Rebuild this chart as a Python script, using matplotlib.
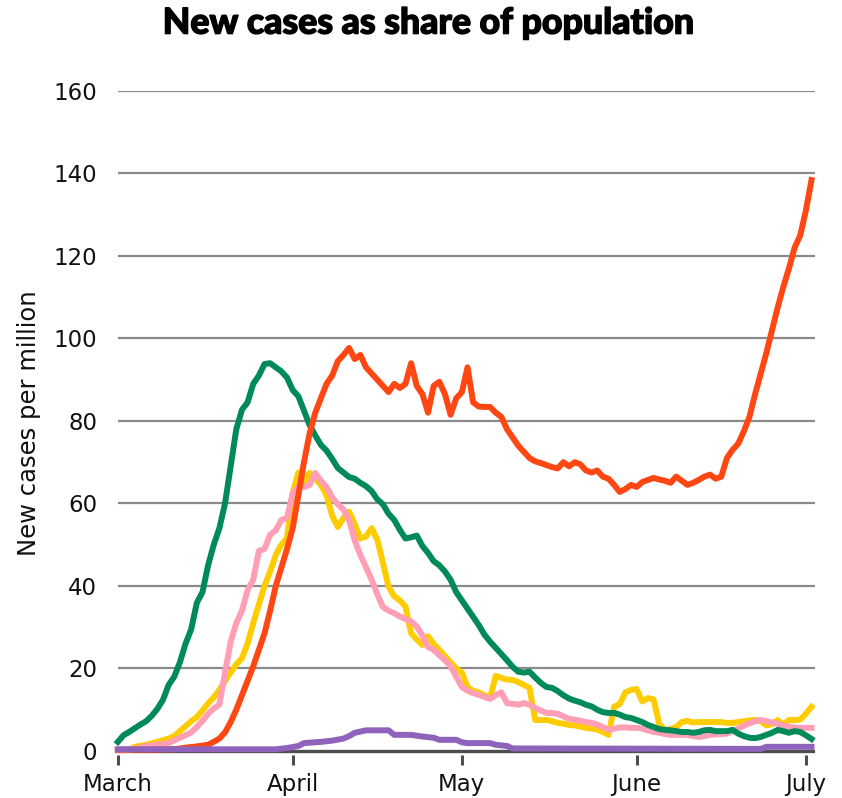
import matplotlib
matplotlib.use("Agg")
import matplotlib.pyplot as plt
import matplotlib.patheffects as pe

# day 0 = 1 March
us_days = [0, 5, 10, 12, 14, 16, 17, 18, 19, 20, 21, 22, 23, 24, 25, 26, 27, 28, 29, 30,
           31, 32, 33, 34, 35, 36, 37, 38, 39, 40, 41, 42, 43, 44, 45, 46, 47, 48, 49, 50,
           51, 52, 53, 54, 55, 56, 57, 58, 59, 60, 61, 62, 63, 64, 65, 66, 67, 68, 69, 70,
           71, 72, 73, 74, 75, 76, 77, 78, 79, 80, 81, 82, 83, 84, 85, 86, 87, 88, 89, 90,
           91, 92, 93, 94, 95, 96, 97, 98, 99, 100, 101, 102, 103, 104, 105, 106, 107, 108,
           109, 110, 111, 112, 113, 114, 115, 116, 117, 118, 119, 120, 121, 122, 123]
us_vals = [0.3, 0.3, 0.4, 0.8, 1.1, 1.5, 2.2, 3, 4.5, 7, 10, 13.5, 17, 20.5, 24.5, 28.5, 34, 40, 44.5, 49,
           54, 62, 70, 77, 82, 85.5, 89, 91, 94.5, 96, 97.7, 95, 96, 93, 91.5, 90, 88.5, 87, 89, 88,
           89, 94, 88.5, 86.5, 82, 88.5, 89.5, 86.5, 81.5, 85.5, 87, 93, 84.5, 83.5, 83.4, 83.4, 82, 81, 78, 76,
           74, 72.5, 71, 70.2, 69.8, 69.3, 68.8, 68.5, 70, 69, 70, 69.5, 68, 67.5, 68, 66.5, 66, 64.5, 62.8, 63.5,
           64.5, 64, 65.2, 65.7, 66.2, 65.8, 65.5, 65, 66.5, 65.5, 64.5, 65, 65.7, 66.5, 67, 66, 66.5,
           71, 73, 74.5, 77.5, 81, 86.5, 91.5, 96.5, 102, 107.5, 112.5, 117, 122, 125, 131, 138.4]

eu_days = list(range(0, 124))
eu_vals = [2.2, 3.8, 4.6, 5.5, 6.4, 7.2, 8.5, 10.2, 12.4, 16, 18, 21.5, 26, 29.5, 35.9, 38.5, 45, 50, 54, 60,
           69, 78, 82.7, 84.5, 89, 91, 93.8, 94, 93, 92, 90.5, 87.5, 86, 82.5, 79, 76.5, 74.2, 72.8, 70.8, 68.6,
           67.5, 66.4, 66, 65, 64.2, 63, 61, 59.8, 57.5, 56, 53.6, 51.5, 51.8, 52.2, 49.7, 48, 46, 45, 43.5, 41.5,
           38.5, 36.5, 34.5, 32.5, 30.5, 28.2, 26.5, 25, 23.5, 22, 20.4, 19.2, 19, 19.2, 17.8, 16.5, 15.5, 15.3, 14.5, 13.5,
           12.7, 12.2, 11.8, 11.2, 10.8, 10, 9.4, 9.2, 9.2, 8.8, 8.2, 8, 7.5, 7, 6.3, 5.8, 5.3, 5.1, 5, 4.8,
           4.6, 4.6, 4.4, 4.6, 5, 5.1, 4.8, 4.8, 4.8, 5.1, 4.2, 3.6, 3.2, 3.1, 3.4, 3.9, 4.4, 5.1, 4.8, 4.4,
           4.8, 4.6, 3.8, 2.9]

yellow_days = [0, 2, 3, 5, 7, 8, 9, 10, 11, 12, 13, 14, 15, 16, 17, 18, 19, 20, 21, 22,
               23, 24, 25, 26, 27, 28, 29, 30, 31, 32, 33, 34, 35, 36, 37, 38, 39, 40, 41, 42,
               43, 44, 45, 46, 47, 48, 49, 50, 51, 52, 53, 54, 55, 56, 57, 58, 59, 60, 61, 62,
               63, 64, 65, 66, 67, 68, 69, 70, 71, 72, 73, 74, 75, 76, 77, 78, 79, 80, 81, 82,
               83, 84, 85, 86, 87, 88, 89, 90, 91, 92, 93, 94, 95, 96, 97, 98, 99, 100, 101, 102,
               103, 104, 105, 106, 107, 108, 109, 110, 111, 112, 113, 114, 115, 116, 117, 118, 119, 120, 121, 122, 123]
yellow_vals = [0.2, 0.3, 1, 1.5, 2.2, 2.6, 3, 3.6, 4.8, 6, 7.2, 8.2, 9.8, 11.5, 13, 14.8, 17, 19, 21, 22.5,
               26, 31, 35.5, 40, 43.5, 47.5, 50, 51.6, 62.5, 67.5, 65, 67.4, 66, 64.5, 62, 57, 54.3, 56.5, 58, 55,
               51.5, 52, 54, 51.2, 45.6, 39.8, 37.5, 36.5, 35, 28.5, 27, 25.7, 27.8, 26, 24.5, 23, 21.5, 20, 19, 15.5,
               14.6, 14.2, 13.5, 12.8, 18.2, 17.7, 17.3, 17.2, 16.7, 16, 15.3, 7.5, 7.5, 7.5, 7.2, 6.8, 6.6, 6.3, 6.2, 5.9,
               5.6, 5.4, 5.2, 4.6, 3.9, 10.7, 11.4, 14.2, 14.8, 15, 12, 12.8, 12.5, 6.5, 5.1, 5.3, 5.8, 7, 7.3, 6.9,
               7, 7, 7, 7, 7, 6.8, 6.8, 7, 7.2, 7.4, 7.5, 7.2, 6.2, 6.5, 7.5, 6.3, 7.5, 7.5, 7.6, 9, 10.7]

pink_days = [0, 3, 5, 7, 9, 11, 12, 13, 14, 15, 16, 17, 18, 19, 20, 21, 22, 23, 24, 25,
             26, 27, 28, 29, 30, 31, 32, 33, 34, 35, 36, 37, 38, 39, 40, 41, 42, 43, 44, 45,
             46, 47, 48, 49, 50, 51, 52, 53, 54, 55, 56, 57, 58, 59, 60, 61, 62, 63, 64, 65,
             66, 67, 68, 69, 70, 71, 72, 73, 74, 75, 76, 77, 78, 79, 80, 81, 82, 83, 84, 85,
             86, 87, 88, 89, 90, 91, 92, 93, 94, 95, 96, 97, 98, 99, 100, 101, 102, 103, 104, 105,
             106, 107, 108, 109, 110, 111, 112, 113, 114, 115, 116, 117, 118, 119, 120, 121, 122, 123]
pink_vals = [0.2, 0.4, 1.2, 1.5, 1.9, 3.2, 3.8, 4.5, 5.8, 7.3, 9, 10.3, 11.2, 19, 26.5, 31, 34, 39, 41.5, 48.5,
             49, 52.4, 53.5, 56, 56.5, 62.5, 64, 64, 64.5, 67.4, 65.5, 64, 61.5, 59.8, 58.5, 56, 51, 47.5, 44.5, 41.5,
             38, 34.9, 34, 33.4, 32.6, 32, 31.4, 30.2, 28, 25.2, 24.5, 23.2, 22, 20.5, 18, 15.5, 14.6, 14, 13.6, 13.1,
             12.6, 13.5, 14.2, 11.6, 11.4, 11.2, 11.6, 11.2, 10.4, 9.8, 9.2, 9.2, 9, 8.4, 7.8, 7.6, 7.3, 7, 6.8, 6.4,
             5.8, 5.1, 5.4, 5.7, 5.7, 5.6, 5.6, 5.4, 5, 4.6, 4.4, 4.1, 3.9, 3.9, 3.9, 3.9, 3.6, 3.4, 3.6, 3.9,
             4, 4.1, 4.2, 4.8, 5.5, 6.1, 6.7, 7.2, 7.5, 7.2, 6.9, 6.6, 6.2, 5.8, 5.7, 5.6, 5.6, 5.6]

purple_days = [0, 28, 30, 32, 33, 35, 36, 38, 40, 41, 42, 44, 48, 49, 52, 54, 56, 57, 60, 61,
               62, 66, 67, 69, 70, 114, 115, 123]
purple_vals = [0.4, 0.4, 0.7, 1.2, 1.9, 2.1, 2.2, 2.5, 3, 3.6, 4.4, 5, 5, 3.9, 3.9, 3.5, 3.2, 2.7, 2.7, 2.1,
               1.9, 1.9, 1.5, 1.2, 0.6, 0.5, 1.0, 1.0]

month_days = [0, 31, 61, 92, 122]
month_labels = ["March", "April", "May", "June", "July"]
y_ticks = [0, 20, 40, 60, 80, 100, 120, 140, 160]

fig = plt.figure(figsize=(8.42, 7.98), dpi=100)
ax = fig.add_axes([0.140, 0.0538, 0.8278, 0.8322])

for t in y_ticks[1:]:
    ax.axhline(t, color="#8a8a8a", lw=1.6, zorder=1)
ax.axhline(0, color="#4d4d4d", lw=2.4, zorder=2)

lw = 4.3
ax.plot(yellow_days, yellow_vals, color="#ffcc00", lw=lw, zorder=3, clip_on=False, solid_joinstyle="round")
ax.plot(pink_days, pink_vals, color="#ff9eb5", lw=lw, zorder=4, clip_on=False, solid_joinstyle="round")
ax.plot(eu_days, eu_vals, color="#008a5a", lw=lw, zorder=5, clip_on=False, solid_joinstyle="round")
ax.plot(us_days, us_vals, color="#ff4713", lw=lw, zorder=6, clip_on=False, solid_joinstyle="round")
ax.plot(purple_days, purple_vals, color="#8f63bb", lw=lw, zorder=7, clip_on=False, solid_joinstyle="round")

ax.set_xlim(0, 123.6)
ax.set_ylim(-1, 160)
for s in ax.spines.values():
    s.set_visible(False)

ax.set_yticks(y_ticks)
ax.set_yticklabels([str(v) for v in y_ticks], fontsize=16.5, family="DejaVu Sans")
ax.tick_params(axis="y", length=0, pad=15, labelcolor="#111111")
ax.set_xticks(month_days)
ax.set_xticklabels(month_labels, fontsize=16.5, family="DejaVu Sans")
ax.tick_params(axis="x", direction="out", length=7, width=2.2, color="#4d4d4d", pad=6,
               labelcolor="#111111")

ax.set_ylabel("New cases per million", fontsize=17.5, family="DejaVu Sans", labelpad=9,
              color="#111111")
fig.text(0.508, 0.971, "New cases as share of population", ha="center", va="center",
         fontsize=25.7, family="Lato", weight="black",
         path_effects=[pe.withStroke(linewidth=1.0, foreground="black")])

fig.savefig("out.png", dpi=100)
